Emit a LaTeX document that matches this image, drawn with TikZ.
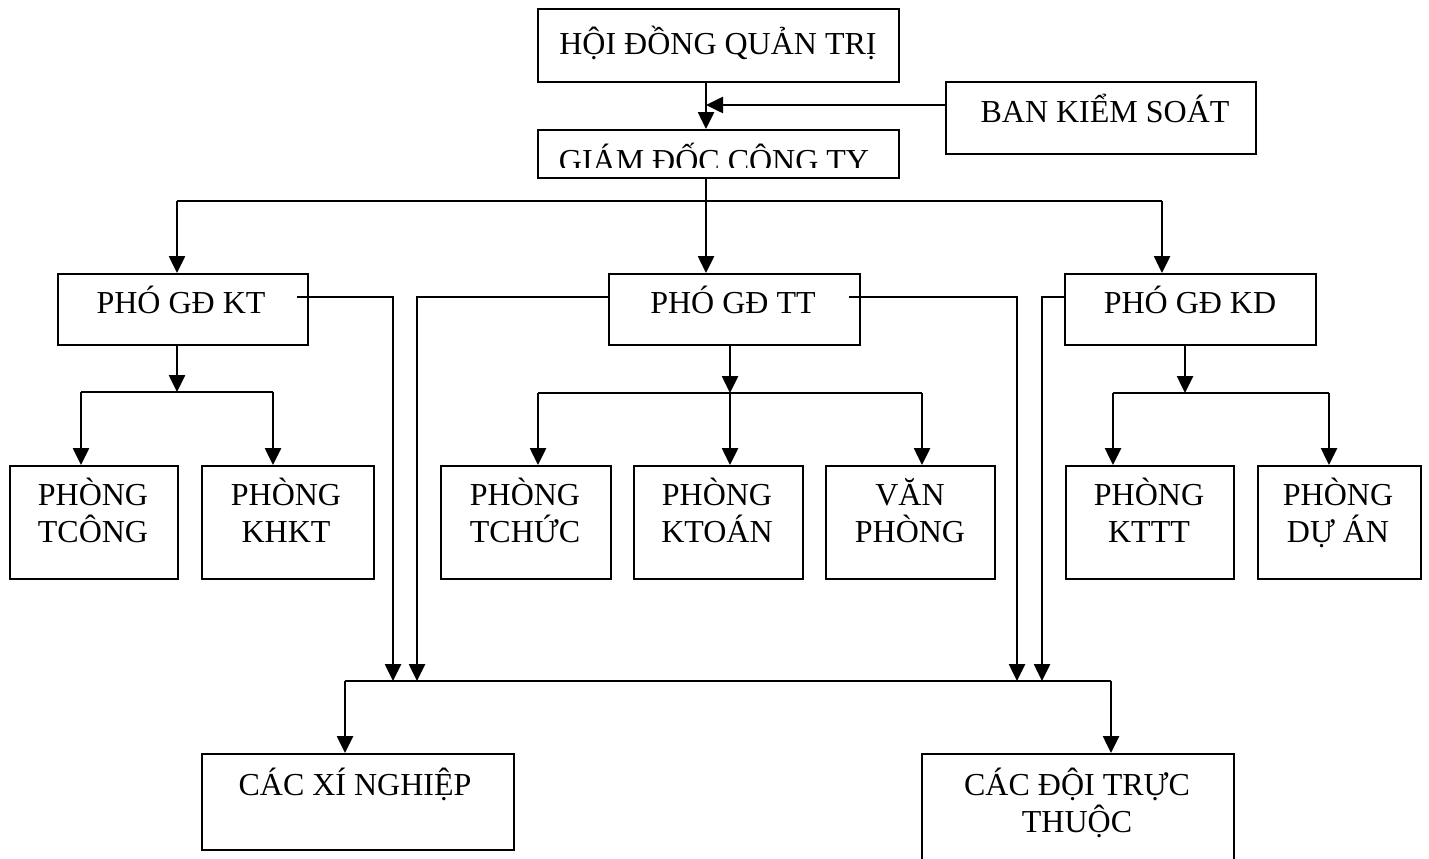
\documentclass[tikz,border=0pt]{standalone}
\usepackage{fontspec}
\setmainfont{Liberation Serif}
\usetikzlibrary{arrows.meta}
\begin{document}
\begin{tikzpicture}[x=1pt,y=-1pt,
  box/.style={draw, line width=2.4pt, inner sep=0pt, anchor=north west},
  txt/.style={font=\fontsize{32}{37}\selectfont, inner sep=0pt, anchor=base, align=center},
  ln/.style={line width=2.6pt},
  arr/.style={line width=2.6pt, -{Triangle[width=16pt,length=17pt]}}]
\useasboundingbox (0,0) rectangle (1429,859);
\fill[white] (0,0) rectangle (1429,859);
\clip (0,0) rectangle (1429,859);

% boxes
\node[box, minimum width=361, minimum height=73] (hdqt) at (537,8) {};
\node[box, minimum width=310, minimum height=72] (bks) at (945,81) {};
\node[box, minimum width=361, minimum height=48] (gd) at (537,129) {};
\node[box, minimum width=250, minimum height=71] (kt) at (57,273) {};
\node[box, minimum width=251, minimum height=71] (tt) at (608,273) {};
\node[box, minimum width=251, minimum height=71] (kd) at (1064,273) {};
\node[box, minimum width=168, minimum height=113] (tcong) at (9,465) {};
\node[box, minimum width=172, minimum height=113] (khkt) at (201,465) {};
\node[box, minimum width=170, minimum height=113] (tchuc) at (440,465) {};
\node[box, minimum width=169, minimum height=113] (ktoan) at (633,465) {};
\node[box, minimum width=169, minimum height=113] (vp) at (825,465) {};
\node[box, minimum width=168, minimum height=113] (kttt) at (1065,465) {};
\node[box, minimum width=163, minimum height=113] (duan) at (1257,465) {};
\node[box, minimum width=312, minimum height=96] (xn) at (201,753) {};
\node[box, minimum width=312, minimum height=160] (doi) at (921,753) {};

% texts
\node[txt] (hdqt-t) at (718,55) {HỘI ĐỒNG QUẢN TRỊ};
\node[txt] (bks-t) at (1105,122) {BAN KIỂM SOÁT};
\begin{scope}
  \clip (537,129) rectangle (898,167);
  \node[txt] (gd-t) at (714,171) {GIÁM ĐỐC CÔNG TY};
\end{scope}
\node[txt] (kt-t) at (181,313) {PHÓ GĐ KT};
\node[txt] (tt-t) at (733,313) {PHÓ GĐ TT};
\node[txt] (kd-t) at (1190,313) {PHÓ GĐ KD};
\node[txt] (tcong-t) at (93,542) {PHÒNG\\TCÔNG};
\node[txt] (khkt-t) at (286,542) {PHÒNG\\KHKT};
\node[txt] (tchuc-t) at (525,542) {PHÒNG\\TCHỨC};
\node[txt] (ktoan-t) at (717,542) {PHÒNG\\KTOÁN};
\node[txt] (vp-t) at (910,542) {VĂN\\PHÒNG};
\node[txt] (kttt-t) at (1149,542) {PHÒNG\\KTTT};
\node[txt] (duan-t) at (1338,542) {PHÒNG\\DỰ ÁN};
\node[txt] (xn-t) at (355,795) {CÁC XÍ NGHIỆP};
\node[txt] (doi-t) at (1077,832) {CÁC ĐỘI TRỰC\\THUỘC};

% junction coordinates
\coordinate (jA) at (706,201);
\coordinate (kB) at (706,105);
\coordinate (b1) at (177,201);
\coordinate (b3) at (1162,201);
\coordinate (k0) at (177,392);
\coordinate (k1) at (81,392);
\coordinate (k2) at (273,392);
\coordinate (t0) at (730,393);
\coordinate (t1) at (538,393);
\coordinate (t3) at (922,393);
\coordinate (d0) at (1185,393);
\coordinate (d1) at (1113,393);
\coordinate (d2) at (1329,393);
\coordinate (kxo) at (297,297);
\coordinate (txo) at (849,297);
\coordinate (e1) at (393,681);
\coordinate (e2) at (417,681);
\coordinate (e3) at (1017,681);
\coordinate (e4) at (1042,681);
\coordinate (f1) at (345,681);
\coordinate (f2) at (1111,681);

% top
\draw[arr] (hdqt.south -| jA) -- (gd.north -| jA);
\draw[arr] (bks.west |- kB) -- (kB);
\draw[ln] (gd.south -| jA) -- (jA);
\draw[ln] (b1) -- (b3);
\draw[arr] (b1) -- (kt.north -| b1);
\draw[arr] (jA) -- (tt.north -| jA);
\draw[arr] (b3) -- (kd.north -| b3);

% KT branch
\draw[arr] (kt.south -| k0) -- (k0);
\draw[ln] (k1) -- (k2);
\draw[arr] (k1) -- (tcong.north -| k1);
\draw[arr] (k2) -- (khkt.north -| k2);

% TT branch
\draw[arr] (tt.south -| t0) -- (t0);
\draw[ln] (t1) -- (t3);
\draw[arr] (t1) -- (tchuc.north -| t1);
\draw[arr] (t0) -- (ktoan.north -| t0);
\draw[arr] (t3) -- (vp.north -| t3);

% KD branch
\draw[arr] (kd.south -| d0) -- (d0);
\draw[ln] (d1) -- (d2);
\draw[arr] (d1) -- (kttt.north -| d1);
\draw[arr] (d2) -- (duan.north -| d2);

% long connectors
\draw[arr] (kxo) -| (e1);
\draw[arr] (tt.west |- kxo) -| (e2);
\draw[arr] (txo) -| (e3);
\draw[arr] (kd.west |- kxo) -| (e4);

% bottom bus
\draw[ln] (f1) -- (f2);
\draw[arr] (f1) -- (xn.north -| f1);
\draw[arr] (f2) -- (doi.north -| f2);
\end{tikzpicture}
\end{document}
